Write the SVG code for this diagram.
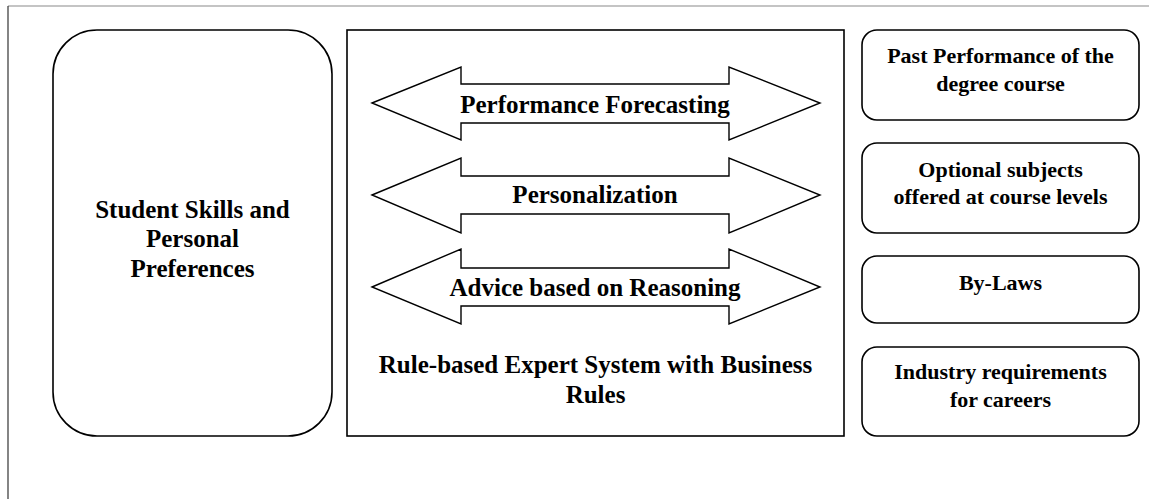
<svg xmlns="http://www.w3.org/2000/svg" width="1149" height="499" viewBox="0 0 1149 499">
<style>
.box{fill:#fff;stroke:#000;stroke-width:1.6}
.arr{fill:#fff;stroke:#000;stroke-width:1.4;stroke-linejoin:miter}
.t{font-family:"Liberation Serif","Times New Roman",serif;font-weight:bold;font-size:25px;fill:#000;text-anchor:middle}
.s{font-size:22px}
</style>
<rect width="1149" height="499" fill="#fff"/>
<g id="frame">
<line x1="8" y1="6" x2="1149" y2="6" stroke="#8a8a8a" stroke-width="1.2"/>
<line x1="8" y1="6" x2="8" y2="499" stroke="#333" stroke-width="1.2"/>
</g>
<g id="student">
<rect class="box" x="53" y="30" width="279" height="406" rx="44" ry="44"/>
<text class="t" x="192.5" y="218">Student Skills and</text>
<text class="t" x="192.5" y="247">Personal</text>
<text class="t" x="192.5" y="277">Preferences</text>
</g>
<g id="expert">
<rect class="box" x="347" y="30" width="497" height="406"/>
<text class="t" x="595.5" y="373">Rule-based Expert System with Business</text>
<text class="t" x="595.5" y="403">Rules</text>
</g>
<g id="connectors">
<g id="forecasting">
<polygon class="arr" points="372,103 461,67 461,84 729,84 729,67 820,103 729,140 729,123 461,123 461,140"/>
<text class="t" x="595" y="113">Performance Forecasting</text>
</g>
<g id="personalization">
<polygon class="arr" points="372,195 461,158 461,176 729,176 729,158 820,195 729,233 729,214 461,214 461,233"/>
<text class="t" x="595" y="203">Personalization</text>
</g>
<g id="advice">
<polygon class="arr" points="372,287 461,249 461,268 729,268 729,249 820,287 729,324 729,306 461,306 461,324"/>
<text class="t" x="595" y="296">Advice based on Reasoning</text>
</g>
</g>
<g id="past">
<rect class="box" x="862" y="30" width="277" height="90" rx="15" ry="15"/>
<text class="t s" x="1000.5" y="63">Past Performance of the</text>
<text class="t s" x="1000.5" y="91">degree course</text>
</g>
<g id="optional">
<rect class="box" x="862" y="143" width="277" height="90" rx="15" ry="15"/>
<text class="t s" x="1000.5" y="177">Optional subjects</text>
<text class="t s" x="1000.5" y="204">offered at course levels</text>
</g>
<g id="bylaws">
<rect class="box" x="862" y="256" width="277" height="67" rx="15" ry="15"/>
<text class="t s" x="1000.5" y="290">By-Laws</text>
</g>
<g id="industry">
<rect class="box" x="862" y="347" width="277" height="89" rx="15" ry="15"/>
<text class="t s" x="1000.5" y="379">Industry requirements</text>
<text class="t s" x="1000.5" y="407">for careers</text>
</g>
</svg>
